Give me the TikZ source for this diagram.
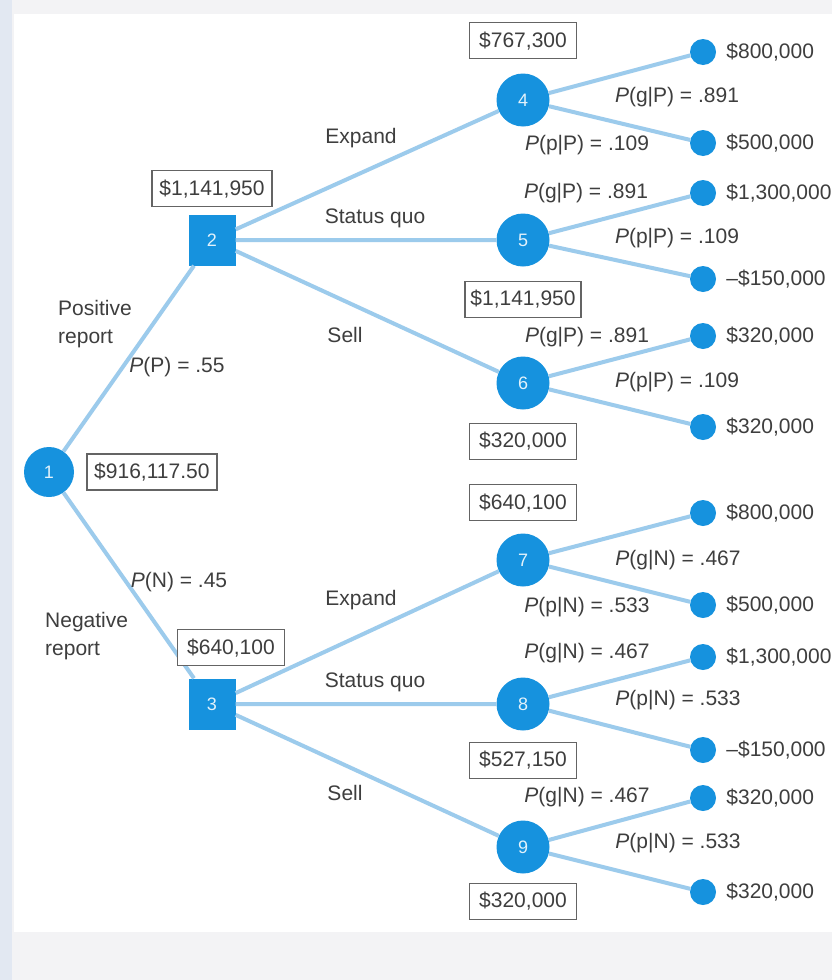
\documentclass[tikz,border=0pt]{standalone}
\usepackage{fontspec}
\setmainfont{Liberation Sans}
\usepackage{tikz}
\usetikzlibrary{positioning}
\definecolor{nodeblue} {RGB}{22,146,222}
\definecolor{linkblue} {RGB}{156,203,236}
\definecolor{txtgray}  {RGB}{62,62,62}
\definecolor{boxgray}  {RGB}{100,100,100}
\definecolor{pagegray} {RGB}{243,243,245}
\definecolor{edgeblue} {RGB}{226,232,242}
\tikzset{
  chance/.style  ={circle, fill=nodeblue, text=white!88!nodeblue,
                   minimum size=53pt, inner sep=0pt,
                   font=\fontsize{18}{20}\selectfont},
  decision/.style={rectangle, fill=nodeblue, text=white!88!nodeblue,
                   minimum width=47pt, minimum height=51pt, inner sep=0pt,
                   font=\fontsize{18}{20}\selectfont},
  endpt/.style   ={circle, fill=nodeblue, minimum size=26pt, inner sep=0pt},
  valbox/.style  ={draw=boxgray, line width=1.3pt, fill=white, text=txtgray,
                   minimum width=#1, minimum height=36pt, inner xsep=1pt,
                   font=\fontsize{21}{25}\selectfont},
  valbox/.default=107pt,
  lbl/.style     ={text=txtgray, inner sep=0pt, align=left,
                   font=\fontsize{21}{28}\selectfont},
  branch/.style  ={draw=linkblue, line width=4pt},
}
\newcommand{\probtxt}[3]{\textit{P}(#1|#2) = #3}

\begin{document}
\begin{tikzpicture}[x=1pt,y=-1pt]
  % page
  \useasboundingbox (0,0) rectangle (832,980);
  \fill[pagegray] (0,0) rectangle (832,980);
  \fill[edgeblue] (0,0) rectangle (12,980);
  \fill[white] (14,14) rectangle (832,932);

  % decision and chance nodes
  \node[chance, minimum size=50pt] (n1) at (49,472) {1};
  \node[decision] (n2) at (212,240) {2};
  \node[decision] (n3) at (212,704) {3};
  \node[chance] (n4) at (523,100) {4};
  \node[chance] (n5) at (523,240) {5};
  \node[chance] (n6) at (523,383) {6};
  \node[chance] (n7) at (523,560) {7};
  \node[chance] (n8) at (523,704) {8};
  \node[chance] (n9) at (523,847) {9};

  % end points
  \node[endpt] (e1)  at (703,52)  {};
  \node[endpt] (e2)  at (703,143) {};
  \node[endpt] (e3)  at (703,193) {};
  \node[endpt] (e4)  at (703,279) {};
  \node[endpt] (e5)  at (703,336) {};
  \node[endpt] (e6)  at (703,427) {};
  \node[endpt] (e7)  at (703,513) {};
  \node[endpt] (e8)  at (703,605) {};
  \node[endpt] (e9)  at (703,657) {};
  \node[endpt] (e10) at (703,750) {};
  \node[endpt] (e11) at (703,798) {};
  \node[endpt] (e12) at (703,892) {};

  % branches
  \draw[branch] (n1) -- (n2) (n1) -- (n3);
  \draw[branch] (n2) -- (n4) (n2) -- (n5) (n2) -- (n6);
  \draw[branch] (n3) -- (n7) (n3) -- (n8) (n3) -- (n9);
  \draw[branch] (n4) -- (e1) (n4) -- (e2);
  \draw[branch] (n5) -- (e3) (n5) -- (e4);
  \draw[branch] (n6) -- (e5) (n6) -- (e6);
  \draw[branch] (n7) -- (e7) (n7) -- (e8);
  \draw[branch] (n8) -- (e9) (n8) -- (e10);
  \draw[branch] (n9) -- (e11) (n9) -- (e12);

  % expected values
  \node[valbox=130pt, right=12pt of n1] (w1) {\$916,117.50};
  \node[valbox=120pt, above=7pt of n2] (w2) {\$1,141,950};
  \node[valbox, above=12pt of n3, xshift=19pt] (w3) {\$640,100};
  \node[valbox, above=14pt of n4] (w4) {\$767,300};
  \node[valbox=116pt, below=14pt of n5] (w5) {\$1,141,950};
  \node[valbox, below=13pt of n6] (w6) {\$320,000};
  \node[valbox, above=12pt of n7] (w7) {\$640,100};
  \node[valbox, below=11pt of n8] (w8) {\$527,150};
  \node[valbox, below=9pt of n9] (w9) {\$320,000};

  % payoffs
  \node[lbl, right=10pt of e1]  (v1)  {\$800,000};
  \node[lbl, right=10pt of e2]  (v2)  {\$500,000};
  \node[lbl, right=10pt of e3]  (v3)  {\$1,300,000};
  \node[lbl, right=10pt of e4]  (v4)  {\textendash\$150,000};
  \node[lbl, right=10pt of e5]  (v5)  {\$320,000};
  \node[lbl, right=10pt of e6]  (v6)  {\$320,000};
  \node[lbl, right=10pt of e7]  (v7)  {\$800,000};
  \node[lbl, right=10pt of e8]  (v8)  {\$500,000};
  \node[lbl, right=10pt of e9]  (v9)  {\$1,300,000};
  \node[lbl, right=10pt of e10] (v10) {\textendash\$150,000};
  \node[lbl, right=10pt of e11] (v11) {\$320,000};
  \node[lbl, right=10pt of e12] (v12) {\$320,000};

  % report branches
  \node[lbl, anchor=west] (pos) at (58,324) {Positive\\report};
  \node[lbl] (pp) at (177,367) {\textit{P}(P) = .55};
  \node[lbl] (pn) at (179,582) {\textit{P}(N) = .45};
  \node[lbl, anchor=west] (neg) at (45,636) {Negative\\report};

  % decisions
  \node[lbl] (d1) at (361,138) {Expand};
  \node[lbl] (d2) at (375,218) {Status quo};
  \node[lbl] (d3) at (345,335) {Sell};
  \node[lbl] (d4) at (361,600) {Expand};
  \node[lbl] (d5) at (375,682) {Status quo};
  \node[lbl] (d6) at (345,793) {Sell};

  % outcome probabilities
  \node[lbl] (q1)  at (677,97)  {\probtxt{g}{P}{.891}};
  \node[lbl] (q2)  at (587,145) {\probtxt{p}{P}{.109}};
  \node[lbl] (q3)  at (586,193) {\probtxt{g}{P}{.891}};
  \node[lbl] (q4)  at (677,238) {\probtxt{p}{P}{.109}};
  \node[lbl] (q5)  at (587,337) {\probtxt{g}{P}{.891}};
  \node[lbl] (q6)  at (677,382) {\probtxt{p}{P}{.109}};
  \node[lbl] (q7)  at (678,560) {\probtxt{g}{N}{.467}};
  \node[lbl] (q8)  at (587,607) {\probtxt{p}{N}{.533}};
  \node[lbl] (q9)  at (587,653) {\probtxt{g}{N}{.467}};
  \node[lbl] (q10) at (678,700) {\probtxt{p}{N}{.533}};
  \node[lbl] (q11) at (587,797) {\probtxt{g}{N}{.467}};
  \node[lbl] (q12) at (678,843) {\probtxt{p}{N}{.533}};
\end{tikzpicture}
\end{document}
